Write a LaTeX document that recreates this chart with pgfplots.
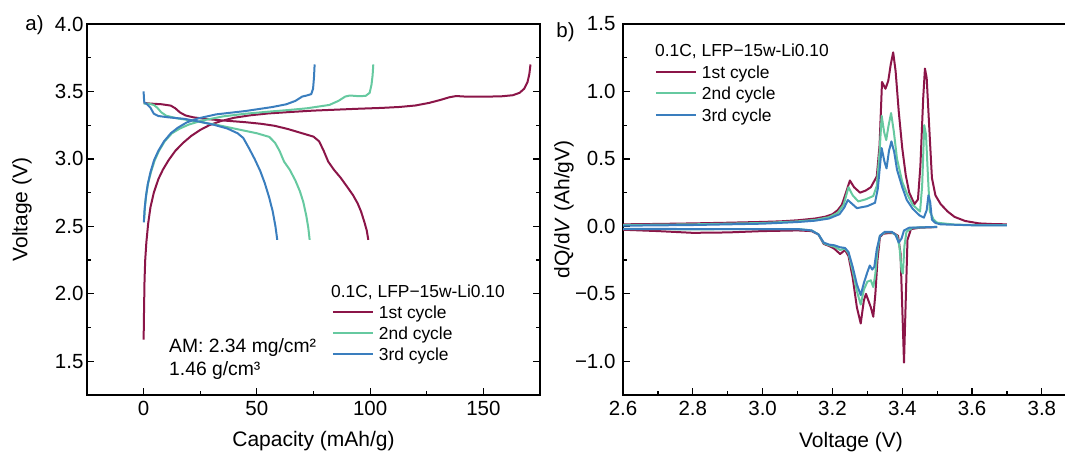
\documentclass[border=0pt]{standalone}
\usepackage{fontspec}
\setmainfont{Liberation Sans}
\usepackage{pgfplots}
\pgfplotsset{compat=1.18}
\definecolor{cA}{RGB}{139,21,72}
\definecolor{cB}{RGB}{102,201,160}
\definecolor{cC}{RGB}{58,126,190}
\pgfplotsset{
  common/.style={
    scale only axis,
    tick align=inside,
    major tick length=7pt, minor tick length=4pt,
    every tick/.style={line width=1.2pt, black},
    axis line style={line width=1.4pt},
    ticklabel style={font=\fontsize{20.5}{24}\selectfont},
    label style={font=\fontsize{21}{25}\selectfont},
    xticklabel style={yshift=-3pt},
    unbounded coords=jump,
    legend cell align=left,
    legend image code/.code={\draw[##1, line width=2pt] (0pt,0pt) -- (40pt,0pt);},
    legend style={draw=none, fill=none, inner sep=0pt, outer sep=0pt,
      font=\fontsize{17.4}{20}\selectfont, column sep=5pt,
      cells={anchor=west},
      nodes={inner sep=0pt, text height=12.5pt, text depth=0pt}},
  },
  every axis plot/.append style={line width=2pt, line join=round},
}
\begin{document}
\begin{tikzpicture}[x=1pt,y=1pt]
\useasboundingbox (0,0) rectangle (1065,453);
% ---------------- panel a ----------------
\begin{axis}[common,
  at={(87pt,58pt)}, anchor=south west, width=453pt, height=371pt,
  xmin=-25, xmax=175, ymin=1.25, ymax=4,
  xtick={0,50,100,150}, xticklabels={0,50,100,150},
  minor xtick={-25,25,75,125,175},
  ytick={1.5,2,2.5,3,3.5,4}, yticklabels={1.5,2.0,2.5,3.0,3.5,4.0},
  minor ytick={1.25,1.75,2.25,2.75,3.25,3.75},
  xtick pos=left, ytick pos=both,
  xlabel={Capacity (mAh/g)}, ylabel={Voltage (V)},
  xlabel style={at={(axis description cs:0.5,-0.124)}, anchor=center},
  ylabel style={at={(axis description cs:-0.1435,0.5)}, anchor=center},
  legend style={at={(axis description cs:0.5408,0.2406)}, anchor=north west, row sep=8.5pt},
]
\addplot[cA] coordinates {
(0,1.66) (0.2,1.90) (0.4,2.10) (0.7,2.25) (1.2,2.38) (2.0,2.52) (3.0,2.64) (4.5,2.75)
(6.5,2.85) (8.5,2.92) (11,2.99) (14,3.06) (17.5,3.12) (21,3.17) (25,3.215) (29,3.25)
(34,3.28) (40,3.305) (47,3.323) (55,3.337) (65,3.348) (75,3.358) (85,3.365) (95,3.372)
(105,3.378) (113,3.385) (120,3.396) (126,3.415) (131,3.437) (135,3.457) (138,3.466)
(142,3.462) (150,3.461) (158,3.464) (163,3.472) (166,3.49) (168,3.52) (169.5,3.57)
(170.3,3.63) (170.8,3.70)
(nan,nan)
(0,3.415) (3,3.41) (8,3.405) (12,3.395) (14,3.375) (16,3.345) (18.5,3.322) (22,3.308)
(28,3.295) (35,3.285) (45,3.272) (52,3.26) (58,3.245) (64,3.22) (70,3.19) (75,3.165)
(77.5,3.13) (79.5,3.06) (81.5,2.98) (84,2.92) (87,2.86) (90,2.79) (92.5,2.73) (94.5,2.67)
(96,2.61) (97.5,2.53) (98.5,2.47) (99.2,2.40)
};
\addlegendentry{1st cycle}
\addplot[cB] coordinates {
(0.3,2.56) (0.6,2.65) (1.2,2.74) (2.0,2.82) (3.2,2.90) (4.9,2.99) (6.8,3.06) (9.3,3.13)
(12.5,3.19) (16,3.225) (20,3.255) (26,3.285) (35,3.315) (45,3.335) (55,3.35) (64.4,3.363)
(72,3.375) (78,3.39) (82,3.40) (86,3.43) (89,3.462) (91,3.47) (95,3.465) (98,3.467)
(99.8,3.49) (100.6,3.55) (101.1,3.62) (101.4,3.70)
(nan,nan)
(0,3.41) (2,3.41) (4.5,3.40) (6,3.38) (7.8,3.345) (10,3.32) (15,3.30) (24,3.277)
(33,3.25) (42,3.218) (50,3.19) (55.5,3.163) (58,3.12) (60,3.06) (62,2.98) (64.5,2.92)
(67,2.84) (69,2.76) (70.5,2.68) (71.8,2.58) (72.7,2.49) (73.3,2.40)
};
\addlegendentry{2nd cycle}
\addplot[cC] coordinates {
(0.1,2.53) (0.4,2.62) (1.0,2.72) (1.8,2.81) (3,2.90) (4.6,2.99) (6.5,3.06) (9,3.13)
(12,3.19) (15,3.23) (19,3.27) (24,3.30) (32,3.33) (45,3.355) (57,3.385) (63,3.405)
(67,3.43) (70,3.462) (72,3.47) (74,3.48) (74.8,3.52) (75.2,3.60) (75.5,3.70)
(nan,nan)
(0,3.50) (0.1,3.46) (0.3,3.42) (1.5,3.405) (3,3.38) (4.5,3.335) (6.5,3.318) (11,3.308)
(18,3.297) (25,3.275) (31,3.253) (37,3.225) (41.5,3.19) (44,3.155) (46.5,3.08) (49,3.00)
(51.5,2.91) (53.5,2.82) (55.5,2.71) (57,2.61) (58.2,2.50) (59,2.40)
};
\addlegendentry{3rd cycle}
\end{axis}
% ---------------- panel b ----------------
\begin{axis}[common,
  at={(623pt,58pt)}, anchor=south west, width=444pt, height=371pt,
  xmin=2.6, xmax=3.872, ymin=-1.25, ymax=1.5,
  xtick={2.6,2.8,3.0,3.2,3.4,3.6,3.8}, xticklabels={2.6,2.8,3.0,3.2,3.4,3.6,3.8},
  minor xtick={2.7,2.9,3.1,3.3,3.5,3.7},
  ytick={-1,-0.5,0,0.5,1,1.5}, yticklabels={−1.0,−0.5,0.0,0.5,1.0,1.5},
  minor ytick={-0.75,-0.25,0.25,0.75,1.25},
  yticklabel style={xshift=-4pt},
  xtick pos=left, ytick pos=left,
  xlabel={Voltage (V)}, ylabel={dQ/d\textit{V} (Ah/gV)},
  xlabel style={at={(axis description cs:0.5135,-0.127)}, anchor=center},
  ylabel style={at={(axis description cs:-0.133,0.5)}, anchor=center},
  legend style={at={(axis description cs:0.072,0.8875)}, anchor=north west, row sep=9pt},
]
\addplot[cA] coordinates {
(2.6,0.015) (2.7,0.018) (2.8,0.022) (2.9,0.027) (3.0,0.033) (3.05,0.037) (3.1,0.045)
(3.15,0.058) (3.18,0.072) (3.2,0.09) (3.215,0.12) (3.227,0.16) (3.24,0.26) (3.25,0.34)
(3.262,0.29) (3.279,0.25) (3.295,0.265) (3.31,0.29) (3.327,0.37) (3.335,0.6) (3.342,1.07)
(3.352,1.02) (3.36,1.08) (3.367,1.2) (3.374,1.29) (3.381,1.15) (3.39,0.85) (3.4,0.58)
(3.41,0.38) (3.42,0.25) (3.435,0.165) (3.445,0.2) (3.452,0.45) (3.46,0.95) (3.465,1.17)
(3.47,1.1) (3.478,0.7) (3.485,0.36) (3.495,0.23) (3.51,0.165) (3.53,0.11) (3.55,0.07)
(3.58,0.04) (3.62,0.022) (3.66,0.017) (3.70,0.015)
(nan,nan)
(2.6,-0.025) (2.7,-0.035) (2.8,-0.048) (2.9,-0.045) (3.0,-0.035) (3.1,-0.03) (3.14,-0.035)
(3.16,-0.06) (3.175,-0.13) (3.19,-0.145) (3.205,-0.165) (3.222,-0.205) (3.236,-0.175)
(3.246,-0.22) (3.258,-0.38) (3.27,-0.6) (3.281,-0.72) (3.29,-0.55) (3.296,-0.5) (3.31,-0.6)
(3.317,-0.67) (3.323,-0.5) (3.329,-0.25) (3.336,-0.08) (3.345,-0.055) (3.36,-0.05)
(3.375,-0.05) (3.388,-0.07) (3.395,-0.2) (3.4,-0.6) (3.405,-1.01) (3.41,-0.55) (3.415,-0.1)
(3.425,-0.02) (3.45,-0.01) (3.5,-0.005)
};
\addlegendentry{1st cycle}
\addplot[cB] coordinates {
(2.6,0.01) (2.8,0.015) (3.0,0.025) (3.1,0.037) (3.15,0.048) (3.19,0.068) (3.215,0.10)
(3.232,0.16) (3.246,0.29) (3.258,0.23) (3.274,0.185) (3.295,0.2) (3.317,0.225) (3.327,0.30)
(3.335,0.55) (3.341,0.82) (3.348,0.7) (3.354,0.64) (3.361,0.75) (3.368,0.84) (3.376,0.7)
(3.385,0.5) (3.4,0.33) (3.413,0.245) (3.43,0.16) (3.451,0.11) (3.457,0.3) (3.463,0.75)
(3.468,0.68) (3.474,0.35) (3.479,0.11) (3.49,0.05) (3.5,0.027) (3.55,0.013) (3.6,0.01)
(3.7,0.01)
(nan,nan)
(2.6,-0.02) (2.8,-0.022) (3.0,-0.02) (3.1,-0.02) (3.14,-0.03) (3.16,-0.06) (3.175,-0.125)
(3.19,-0.14) (3.205,-0.15) (3.222,-0.175) (3.236,-0.165) (3.246,-0.2) (3.258,-0.33)
(3.27,-0.48) (3.281,-0.58) (3.29,-0.47) (3.3,-0.41) (3.31,-0.4) (3.317,-0.45) (3.323,-0.35)
(3.329,-0.18) (3.336,-0.07) (3.35,-0.045) (3.37,-0.045) (3.385,-0.07) (3.392,-0.15)
(3.398,-0.33) (3.402,-0.35) (3.406,-0.15) (3.412,-0.04) (3.43,-0.01) (3.5,-0.004)
};
\addlegendentry{2nd cycle}
\addplot[cC] coordinates {
(2.6,0.005) (2.8,0.01) (3.0,0.02) (3.1,0.032) (3.15,0.042) (3.19,0.058) (3.22,0.09)
(3.234,0.14) (3.244,0.195) (3.255,0.17) (3.27,0.135) (3.3,0.15) (3.322,0.175) (3.33,0.28)
(3.341,0.58) (3.349,0.48) (3.355,0.43) (3.362,0.56) (3.369,0.63) (3.377,0.55) (3.385,0.42)
(3.4,0.29) (3.413,0.196) (3.43,0.13) (3.45,0.08) (3.462,0.065) (3.47,0.12) (3.475,0.23)
(3.48,0.18) (3.485,0.05) (3.495,0.025) (3.51,0.015) (3.6,0.008) (3.7,0.008)
(nan,nan)
(2.6,-0.018) (2.8,-0.02) (3.0,-0.02) (3.1,-0.02) (3.14,-0.03) (3.16,-0.06) (3.175,-0.12)
(3.19,-0.135) (3.205,-0.14) (3.222,-0.155) (3.236,-0.16) (3.246,-0.19) (3.258,-0.3)
(3.27,-0.43) (3.281,-0.51) (3.29,-0.42) (3.3,-0.34) (3.307,-0.29) (3.314,-0.32) (3.32,-0.3)
(3.327,-0.17) (3.336,-0.07) (3.35,-0.04) (3.37,-0.04) (3.38,-0.06) (3.39,-0.12)
(3.398,-0.09) (3.405,-0.03) (3.42,-0.01) (3.5,-0.004)
};
\addlegendentry{3rd cycle}
\end{axis}
% ---------------- texts ----------------
\node[anchor=base west, inner sep=0pt, font=\fontsize{17.4}{20}\selectfont] at (331,155.75) {0.1C, LFP−15w-Li0.10};
\node[anchor=base west, inner sep=0pt, font=\fontsize{17.4}{20}\selectfont] at (655,396.25) {0.1C, LFP−15w-Li0.10};
\node[anchor=base west, inner sep=0pt, font=\fontsize{19.3}{23}\selectfont] at (169,100.3) {AM: 2.34 mg/cm²};
\node[anchor=base west, inner sep=0pt, font=\fontsize{19.3}{23}\selectfont] at (169,78) {1.46 g/cm³};
\node[inner sep=0pt, font=\fontsize{20.5}{24}\selectfont] at (34.5,427.5) {a)};
\node[inner sep=0pt, font=\fontsize{20.5}{24}\selectfont] at (565.5,420.5) {b)};
\end{tikzpicture}
\end{document}
